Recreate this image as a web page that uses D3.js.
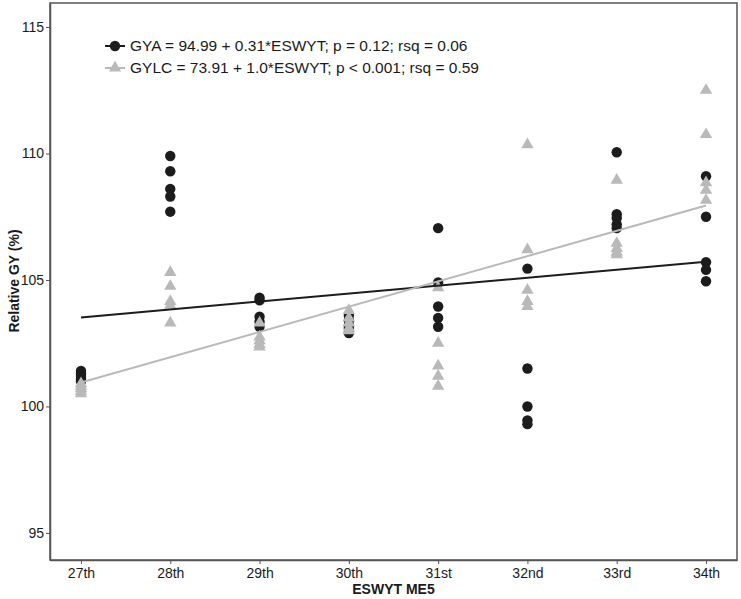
<!DOCTYPE html>
<html>
<head>
<meta charset="utf-8">
<script src="https://cdn.jsdelivr.net/npm/d3@7"></script>
<style>
  body { margin: 0; background: #fff; }
  text { font-family: "Liberation Sans", Arial, sans-serif; }
</style>
</head>
<body>
<svg id="chart"></svg>
<script>
const width = 741;
const height = 599;

// ESWYT nursery, categories and numeric position
const labels = ["27th", "28th", "29th", "30th", "31st", "32nd", "33rd", "34th"];
const eswyt = [27, 28, 29, 30, 31, 32, 33, 34];

// relative GY (%) per nursery
const gya = [
  [101.4, 101.3, 101.2, 101.1, 101.0],
  [109.9, 109.3, 108.6, 108.3, 107.7],
  [104.3, 104.2, 103.55, 103.35, 103.15],
  [103.6, 103.4, 103.2, 103.1, 102.9],
  [107.05, 104.9, 103.95, 103.5, 103.15],
  [105.45, 101.5, 100.0, 99.45, 99.3],
  [110.05, 107.6, 107.45, 107.2, 107.05],
  [109.1, 107.5, 105.7, 105.4, 104.95]
];
const gylc = [
  [100.9, 100.8, 100.7, 100.6, 100.5],
  [105.3, 104.75, 104.15, 104.0, 103.3],
  [103.3, 102.75, 102.6, 102.45, 102.35],
  [103.8, 103.5, 103.3, 103.1, 103.0],
  [104.7, 102.5, 101.6, 101.2, 100.8],
  [110.35, 106.2, 104.6, 104.15, 103.95],
  [108.95, 106.45, 106.25, 106.1, 106.0],
  [112.5, 110.75, 108.85, 108.55, 108.15]
];

const legendText = [
  "GYA = 94.99 + 0.31*ESWYT; p = 0.12; rsq = 0.06",
  "GYLC = 73.91 + 1.0*ESWYT; p < 0.001; rsq = 0.59"
];
const yTicks = [95, 100, 105, 110, 115];

const dark = "#1c1c1c";
const light = "#b9b9b9";

// least squares fit of the points
function fit(groups) {
  const pts = [];
  groups.forEach((vals, i) => vals.forEach(v => pts.push([eswyt[i], v])));
  const mx = d3.mean(pts, p => p[0]);
  const my = d3.mean(pts, p => p[1]);
  const b = d3.sum(pts, p => (p[0] - mx) * (p[1] - my)) / d3.sum(pts, p => (p[0] - mx) ** 2);
  return [my - b * mx, b];
}

const svg = d3.select("#chart")
    .attr("width", width)
    .attr("height", height);

const x = d3.scaleLinear()
    .domain([26.653, 34.347])
    .range([50, 737]);

const y = d3.scaleLinear()
    .domain([93.93, 115.95])
    .range([560, 3]);

// panel border
svg.append("rect")
    .attr("x", 50)
    .attr("y", 3)
    .attr("width", 687)
    .attr("height", 557)
    .attr("fill", "none")
    .attr("stroke", "#555")
    .attr("stroke-width", 1.5);

const xAxis = svg.append("g")
    .attr("transform", "translate(0,560)")
    .call(d3.axisBottom(x).tickValues(eswyt).tickSize(4).tickSizeOuter(0)
        .tickFormat((d, i) => labels[i]));

const yAxis = svg.append("g")
    .attr("transform", "translate(50,0)")
    .call(d3.axisLeft(y).tickValues(yTicks).tickSize(4).tickSizeOuter(0));

[xAxis, yAxis].forEach(a => {
  a.select(".domain").attr("stroke", "#555").attr("stroke-width", 1.5);
  a.selectAll(".tick line").attr("stroke", "#555");
  a.selectAll(".tick text")
      .attr("fill", "#1a1a1a")
      .style("font-size", "14px");
});
xAxis.selectAll(".tick text").attr("dy", "0.71em").attr("y", 8);
yAxis.selectAll(".tick text").attr("x", -6);

// points
const tri = d3.symbol().type(d3.symbolTriangle).size(66);

gya.forEach((vals, i) => {
  svg.append("g").selectAll("circle")
      .data(vals)
      .enter()
      .append("circle")
      .attr("cx", x(eswyt[i]))
      .attr("cy", d => y(d))
      .attr("r", 5.2)
      .attr("fill", dark);
});

gylc.forEach((vals, i) => {
  svg.append("g").selectAll("path")
      .data(vals)
      .enter()
      .append("path")
      .attr("d", tri)
      .attr("transform", d => `translate(${x(eswyt[i])},${y(d)})`)
      .attr("fill", light);
});

// regression lines
const line = d3.line()
    .x(d => x(d[0]))
    .y(d => y(d[1]));

const ends = d3.extent(eswyt);

[[gya, dark], [gylc, light]].forEach(([groups, col]) => {
  const [a, b] = fit(groups);
  svg.append("path")
      .datum(ends.map(e => [e, a + b * e]))
      .attr("d", line)
      .attr("fill", "none")
      .attr("stroke", col)
      .attr("stroke-width", 2);
});

// legend
const legend = svg.append("g").attr("transform", "translate(105,46)");

legendText.forEach((t, i) => {
  const g = legend.append("g").attr("transform", `translate(0,${i * 22})`);
  const col = i === 0 ? dark : light;
  g.append("line")
      .attr("x1", 0).attr("x2", 20)
      .attr("stroke", col)
      .attr("stroke-width", 2);
  if (i === 0) {
    g.append("circle").attr("cx", 10).attr("r", 5.2).attr("fill", col);
  } else {
    g.append("path").attr("d", tri).attr("transform", "translate(10,0)").attr("fill", col);
  }
  g.append("text")
      .attr("x", 25)
      .attr("dy", "0.35em")
      .style("font-size", "15.5px")
      .attr("fill", "#1a1a1a")
      .text(t);
});

// axis titles
svg.append("text")
    .attr("x", 393.5)
    .attr("y", 594)
    .attr("text-anchor", "middle")
    .style("font-size", "14px")
    .style("font-weight", "bold")
    .attr("fill", "#1a1a1a")
    .text("ESWYT ME5");

svg.append("text")
    .attr("transform", "translate(19,281) rotate(-90)")
    .attr("text-anchor", "middle")
    .style("font-size", "14px")
    .style("font-weight", "bold")
    .attr("fill", "#1a1a1a")
    .text("Relative GY (%)");
</script>
</body>
</html>
